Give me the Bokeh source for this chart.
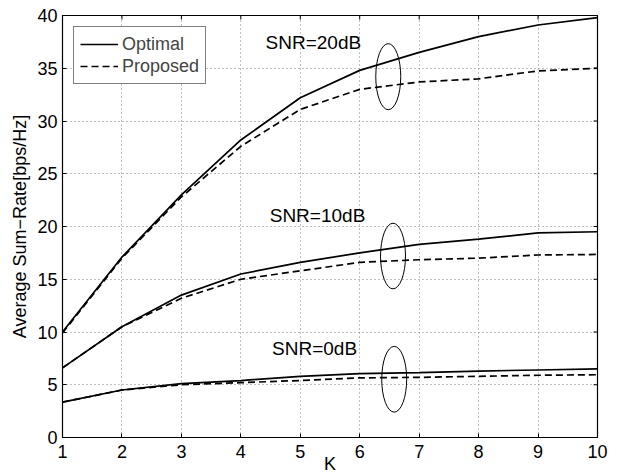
import math
from bokeh.plotting import figure
from bokeh.models import FixedTicker, Range1d, ColumnDataSource, Legend, LegendItem
from bokeh.core.properties import value
from bokeh.embed import file_html
from bokeh.resources import INLINE

K = [1, 2, 3, 4, 5, 6, 7, 8, 9, 10]
opt20 = [10.0, 17.1, 23.0, 28.2, 32.2, 34.8, 36.5, 38.0, 39.1, 39.8]
prop20 = [9.9, 17.0, 22.8, 27.6, 31.1, 33.0, 33.7, 34.0, 34.75, 35.0]
opt10 = [6.6, 10.5, 13.5, 15.5, 16.6, 17.5, 18.3, 18.8, 19.4, 19.5]
prop10 = [6.6, 10.5, 13.2, 15.0, 15.8, 16.6, 16.85, 17.0, 17.3, 17.35]
opt0 = [3.35, 4.5, 5.1, 5.4, 5.8, 6.05, 6.15, 6.3, 6.4, 6.5]
prop0 = [3.35, 4.5, 5.0, 5.2, 5.4, 5.65, 5.7, 5.8, 5.9, 5.95]

x_ticks = [1, 2, 3, 4, 5, 6, 7, 8, 9, 10]
y_ticks = [0, 5, 10, 15, 20, 25, 30, 35, 40]
x_min, x_max = 1, 10
y_min, y_max = 0, 40

snr_labels = ["SNR=20dB", "SNR=10dB", "SNR=0dB"]
label_x = [5.22, 5.29, 5.24]
label_y = [37.4, 21.0, 8.4]

ell_x = [6.48, 6.56, 6.58]
ell_y = [34.2, 17.2, 5.52]
ell_w = [0.42, 0.42, 0.42]
ell_h = [6.26, 6.22, 6.23]

FONT = "Liberation Sans"

p = figure(width=619, height=476, output_backend="svg", toolbar_location=None,
           x_range=Range1d(x_min, x_max), y_range=Range1d(y_min, y_max),
           min_border_left=62, min_border_right=22, min_border_top=15, min_border_bottom=39,
           x_axis_label="K", y_axis_label="Average Sum\u2212Rate[bps/Hz]")
p.background_fill_color = "white"
p.border_fill_color = "white"
p.outline_line_color = "black"
p.outline_line_width = 1.2

for ax, ticks in ((p.xaxis[0], x_ticks), (p.yaxis[0], y_ticks)):
    ax.ticker = FixedTicker(ticks=ticks)
    ax.major_tick_in = 4
    ax.major_tick_out = 0
    ax.minor_tick_line_color = None
    ax.axis_line_color = "black"
    ax.major_tick_line_color = "black"
    ax.major_label_text_font = FONT
    ax.major_label_text_font_size = "18px"
    ax.major_label_text_color = "black"
    ax.axis_label_text_font = FONT
    ax.axis_label_text_font_size = "18px"
    ax.axis_label_text_font_style = "normal"
    ax.axis_label_text_color = "black"
p.xaxis.major_label_standoff = 7
p.xaxis.axis_label_standoff = -7
p.yaxis.major_label_standoff = 5
p.yaxis.axis_label_standoff = 4

# inward tick marks on the top and right edges (clipped to the frame)
p.scatter(x=x_ticks, y=[y_max] * len(x_ticks), marker="dash", angle=math.pi / 2,
          size=8, line_color="black", line_width=1)
p.scatter(x=[x_max] * len(y_ticks), y=y_ticks, marker="dash",
          size=8, line_color="black", line_width=1)

p.xgrid.ticker = FixedTicker(ticks=x_ticks)
p.ygrid.ticker = FixedTicker(ticks=y_ticks)
for g in (p.xgrid[0], p.ygrid[0]):
    g.grid_line_color = "#808080"
    g.grid_line_dash = "1 3"
    g.grid_line_width = 1

src = ColumnDataSource(dict(K=K, opt20=opt20, prop20=prop20, opt10=opt10,
                            prop10=prop10, opt0=opt0, prop0=prop0))
solid = []
dashed = []
for o, pr in (("opt20", "prop20"), ("opt10", "prop10"), ("opt0", "prop0")):
    solid.append(p.line("K", o, source=src, line_color="black", line_width=1.7))
    dashed.append(p.line("K", pr, source=src, line_color="black", line_width=1.7,
                         line_dash="7 4"))

p.ellipse(x=ell_x, y=ell_y, width=ell_w, height=ell_h, fill_color=None,
          line_color="black", line_width=1)

p.text(x=label_x, y=label_y, text=snr_labels, text_align="center", text_baseline="middle",
       text_font=value(FONT), text_font_size="19px", text_color="black")

legend = Legend(items=[LegendItem(label="Optimal", renderers=[solid[0]]),
                       LegendItem(label="Proposed", renderers=[dashed[0]])],
                location="top_left", margin=11, padding=6, spacing=0,
                label_text_font=FONT, label_text_font_size="18px",
                label_height=22, glyph_height=22, glyph_width=38, label_standoff=4,
                border_line_color="black", border_line_width=1,
                background_fill_alpha=1.0)
p.add_layout(legend)

open("out.html", "w").write(file_html(p, INLINE))
